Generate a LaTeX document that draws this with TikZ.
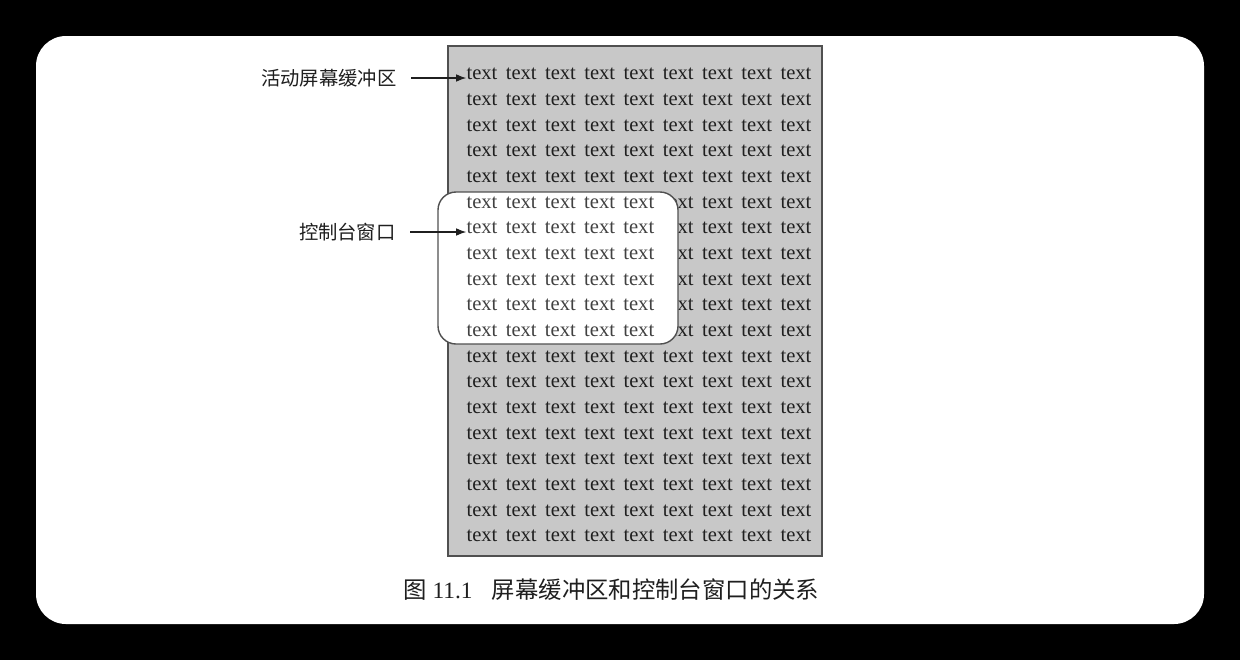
\documentclass[tikz,border=0pt]{standalone}
\usepackage{fontspec}
\setmainfont{Liberation Serif}
\newfontfamily\cjk{Noto Sans CJK SC}
\usetikzlibrary{arrows.meta,positioning}
\definecolor{ink}{HTML}{1F1F1F}
\definecolor{paper}{HTML}{C8C8C8}
\definecolor{frame}{HTML}{505050}

\begin{document}
\begin{tikzpicture}[x=0.2mm,y=-0.2mm,>=Latex,
  cell/.style={inner sep=0pt,font=\fontsize{11.7}{14}\selectfont,text=ink},
  wcell/.style={cell,text=ink!85},
  lbl/.style={inner sep=0pt,anchor=east,text=ink,font=\cjk\fontsize{11}{13}\selectfont},
  pointer/.style={->,ink,line width=0.6pt,shorten <=2.8mm}]
\fill[black] (0,0) rectangle (1240,660);
\fill[white,rounded corners=6mm] (36,36) rectangle (1204,624);
\draw[frame,fill=paper,line width=0.8pt] (448,46) rectangle (822,556);
\foreach \r in {1,2,3,4,5,12,13,14,15,16,17,18,19}{
\foreach \c in {1,...,9}{
\node[cell] (t-\r-\c) at ({482+(\c-1)*39.25},{74+(\r-1)*25.67}) {text};}}
\foreach \r in {6,...,11}{
\foreach \c in {6,...,9}{
\node[cell] (t-\r-\c) at ({482+(\c-1)*39.25},{74+(\r-1)*25.67}) {text};}}
\draw[frame,fill=white,rounded corners=3.6mm,line width=0.8pt] (438,192) rectangle (678,344);
\foreach \r in {6,...,11}{
\foreach \c in {1,...,5}{
\node[wcell] (w-\r-\c) at ({482+(\c-1)*39.2},{74+(\r-1)*25.67}) {text};}}
\node[lbl] (buf) at (397,78) {活动屏幕缓冲区};
\node[lbl] (con) at (396,232) {控制台窗口};
\draw[pointer] (buf.east) -- (buf.east -| t-1-1.west);
\draw[pointer] (con.east) -- (con.east -| w-7-1.west);
\node[anchor=west,inner sep=0pt,text=ink,font=\fontsize{13.3}{16}\selectfont] (cap) at (403,590)
  {{\cjk 图} 11.1\hspace{11pt}{\cjk 屏幕缓冲区和控制台窗口的关系}};
\end{tikzpicture}
\end{document}
